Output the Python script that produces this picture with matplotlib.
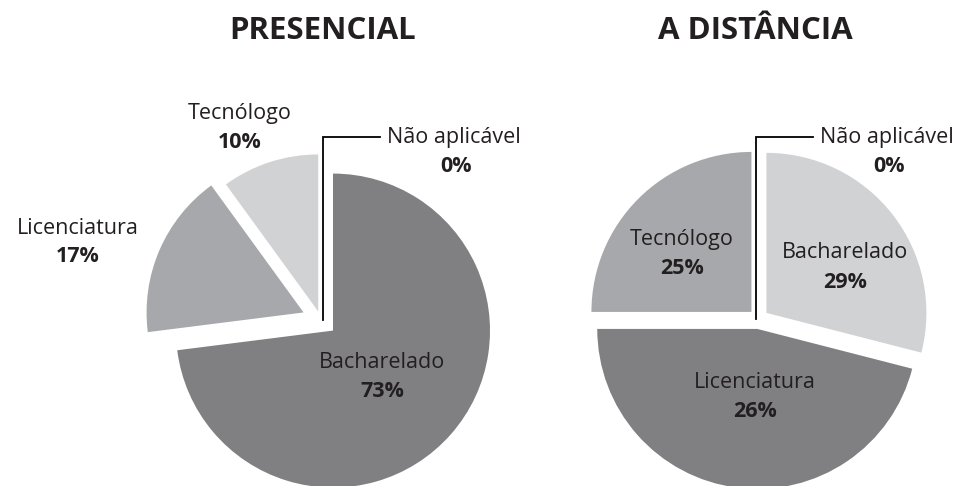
import matplotlib
matplotlib.use("Agg")
from matplotlib import pyplot as plt

plt.rcParams['font.family'] = ['Open Sans', 'DejaVu Sans']

# slice order: Bacharelado, Licenciatura, Tecnólogo
categories = ['Bacharelado', 'Licenciatura', 'Tecnólogo']
presencial = [73, 17, 10]
distancia = [29, 46, 25]          # share of the circle as drawn
presencial_labels = ['73%', '17%', '10%']
distancia_labels = ['29%', '26%', '25%']   # printed values
na_label = 'Não aplicável'
na_value = '0%'

DARK, MID, LIGHT = '#808083', '#a7a8ab', '#d1d2d4'
TXT = '#231f20'
W, H = 958, 486
FS = 15.5


def Y(y):
    # pixel row -> data y
    return H - y


def drawPie(ax, values, colors, explode, center, radius, title, title_x,
            names, pcts, label_pos, leader):
    ax.pie(values, colors=colors, explode=explode, startangle=90,
           counterclock=False, center=(center[0], Y(center[1])),
           radius=radius, wedgeprops=dict(linewidth=0), frame=True)
    ax.text(title_x, Y(31), title, ha='center', va='center',
            fontsize=22.5, fontweight='bold', color=TXT)
    for name, pct, (x, y) in zip(names, pcts, label_pos):
        ax.text(x, Y(y), name, ha='center', va='center', fontsize=FS, color=TXT)
        ax.text(x, Y(y + 29), pct, ha='center', va='center', fontsize=FS,
                fontweight='bold', color=TXT)
    # "Não aplicável" leader line from the centre
    lx, ly0, ly1, lx1 = leader
    ax.plot([lx, lx, lx1], [Y(ly0), Y(ly1), Y(ly1)], color='black', lw=1.3,
            solid_joinstyle='miter')
    ax.text(lx1 + 7, Y(ly1), na_label, ha='left', va='center', fontsize=FS, color=TXT)
    ax.text(lx1 + 76, Y(ly1 + 29), na_value, ha='center', va='center', fontsize=FS,
            fontweight='bold', color=TXT)


fig = plt.figure(figsize=(W / 100, H / 100), dpi=100)
ax = fig.add_axes([0, 0, 1, 1])

drawPie(ax, presencial, [DARK, MID, LIGHT], [16, 19, 9], (321, 320), 157,
        'PRESENCIAL', 323, categories, presencial_labels,
        [(382, 362), (78, 228), (240, 113)], (323, 320, 137, 380))
drawPie(ax, distancia, [LIGHT, DARK, MID], [10, 10, 10], (758.5, 319), 160,
        'A DISTÂNCIA', 755, categories, distancia_labels,
        [(845, 253), (755, 382), (682, 240)], (756, 319, 137, 813))

ax.set_xlim(0, W)
ax.set_ylim(0, H)
ax.set_aspect('equal')
ax.axis('off')

fig.savefig('out.png', dpi=100, facecolor='white')
